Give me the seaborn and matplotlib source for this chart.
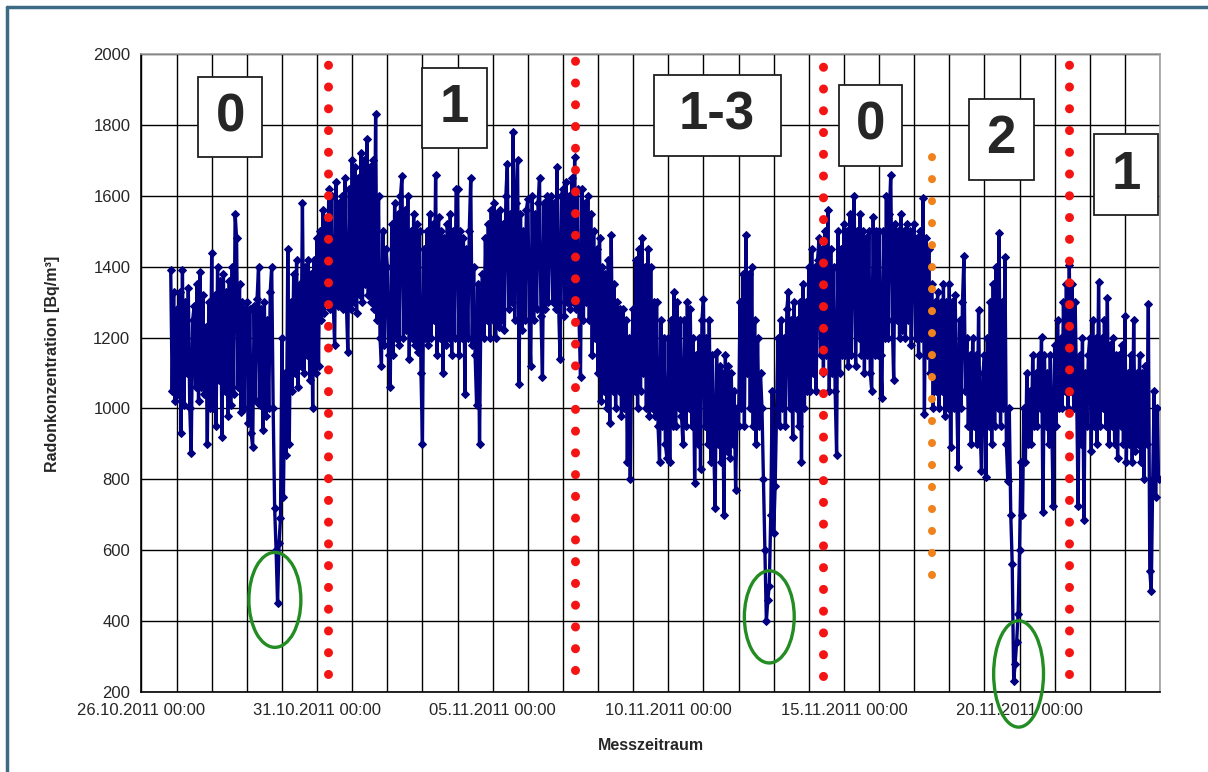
import numpy as np
import pandas as pd
import matplotlib
matplotlib.use("Agg")
import matplotlib.pyplot as plt
import matplotlib.dates as mdates
from matplotlib.patches import Ellipse, Rectangle
from matplotlib.lines import Line2D
import seaborn as sns

# Radon series, hourly, starting 26.10.2011 20:00
start = "2011-10-26 20:00"
radon = [
    # 26.10.
    1390, 1050, 1330, 1020,
    # 27.10.
    1280, 1040, 1330, 930, 1390, 1010, 1300, 1100, 1340, 1000, 875, 1250,
    1290, 1060, 1350, 1020, 1385, 1060, 1320, 1040, 1230, 900, 1300, 1000,
    # 28.10.
    1440, 1000, 1320, 950, 1400, 1080, 1360, 920, 1380, 1050, 1330, 980,
    1360, 1010, 1400, 1040, 1550, 1480, 1060, 1350, 990, 1300, 1000, 1280,
    # 29.10.
    1300, 960, 1280, 930, 890, 1290, 1020, 1310, 1400, 1010, 1280, 940,
    1300, 980, 1250, 1000, 1330, 1400, 1000, 720, 600, 450, 620, 690,
    # 30.10.
    1200, 750, 1100, 870, 1450, 900, 1300, 1050, 1380, 1100, 1420, 1060,
    1350, 1120, 1580, 1100, 1400, 1150, 1420, 1080, 1380, 1000, 1420, 1100,
    # 31.10.
    1480, 1120, 1500, 1250, 1560, 1270, 1520, 1300, 1620, 1280, 1600, 1300,
    1180, 1640, 1290, 1580, 1300, 1600, 1280, 1650, 1300, 1160, 1620, 1280,
    # 01.11.
    1700, 1300, 1680, 1270, 1650, 1320, 1720, 1300, 1700, 1350, 1760, 1320,
    1680, 1300, 1700, 1280, 1830, 1250, 1600, 1200, 1120, 1500, 1180, 1450,
    # 02.11.
    1400, 1150, 1060, 1520, 1150, 1580, 1200, 1550, 1180, 1600, 1655, 1200,
    1560, 1220, 1600, 1140, 1500, 1200, 1550, 1180, 1520, 1160, 1500, 1100,
    # 03.11.
    900, 1450, 1200, 1500, 1180, 1550, 1200, 1520, 1250, 1660, 1150, 1540,
    1200, 1500, 1100, 1480, 1180, 1520, 1200, 1550, 1150, 1500, 1200, 1620,
    # 04.11.
    1620, 1150, 1500, 1200, 1480, 1040, 1450, 1200, 1500, 1650, 1180, 1400,
    1150, 1010, 1350, 900, 1300, 1380, 1200, 1480, 1250, 1520, 1200, 1560,
    # 05.11.
    1250, 1580, 1200, 1550, 1230, 1560, 1250, 1520, 1220, 1600, 1690, 1280,
    1550, 1300, 1780, 1250, 1580, 1700, 1070, 1550, 1220, 1500, 1250, 1560,
    # 06.11.
    1590, 1250, 1120, 1600, 1250, 1550, 1280, 1580, 1650, 1260, 1090, 1580,
    1280, 1600, 1300, 1560, 1600, 1300, 1580, 1280, 1680, 1300, 1140, 1600,
    # 07.11.
    1620, 1260, 1640, 1300, 1600, 1280, 1650, 1300, 1710, 1280, 1620, 1250,
    1090, 1620, 1250, 1580, 1300, 1600, 1250, 1550, 1150, 1500, 1200, 1450,
    # 08.11.
    1100, 1480, 1020, 1400, 1050, 1380, 1000, 1420, 960, 1490, 1050, 1350,
    1000, 1300, 1050, 1280, 980, 1280, 1000, 1250, 850, 1200, 800, 1150,
    # 09.11.
    1280, 1050, 1420, 1000, 1450, 1050, 1480, 1100, 1400, 1000, 1450, 980,
    1400, 1000, 1300, 980, 1300, 950, 850, 1250, 950, 1200, 900, 860,
    # 10.11.
    1200, 850, 1250, 950, 1330, 950, 1300, 1000, 1250, 980, 900, 1250,
    950, 1300, 1000, 1280, 950, 1200, 790, 1150, 900, 1200, 830, 1250,
    # 11.11.
    1310, 950, 1200, 900, 1250, 850, 1150, 900, 720, 1160, 900, 1120,
    850, 1100, 700, 1150, 880, 1120, 860, 1100, 900, 1050, 770, 1000,
    # 12.11.
    950, 1300, 1000, 1380, 950, 1490, 1100, 1380, 1000, 1400, 950, 1250,
    900, 1200, 950, 1100, 1000, 800, 600, 400, 460, 500, 700, 1050,
    # 13.11.
    650, 780, 1000, 1200, 950, 1250, 1000, 1200, 950, 1280, 1330, 1000,
    1250, 920, 1300, 1000, 1250, 950, 1300, 850, 1350, 1000, 1300, 1050,
    # 14.11.
    1400, 1050, 1450, 1100, 1400, 1050, 1420, 1480, 1150, 1450, 1100, 1500,
    1150, 1560, 1050, 1450, 1100, 1400, 1050, 870, 1500, 1100, 1450, 1150,
    # 15.11.
    1520, 1150, 1500, 1120, 1550, 1150, 1500, 1600, 1120, 1500, 1200, 1550,
    1150, 1500, 1100, 1480, 1150, 1500, 1100, 1050, 1540, 1150, 1500, 1150,
    # 16.11.
    1500, 1150, 1030, 1500, 1200, 1600, 1200, 1550, 1660, 1250, 1080, 1520,
    1250, 1500, 1200, 1550, 1220, 1500, 1200, 1520, 1250, 1500, 1180, 1480,
    # 17.11.
    1520, 1200, 1480, 1150, 1500, 1200, 1593, 984, 1480, 1150, 1450, 1100,
    1350, 1000, 1300, 1050, 1330, 1000, 1300, 1050, 1350, 980, 1300, 1000,
    # 18.11.
    1350, 890, 1300, 1000, 1320, 1050, 835, 1250, 1000, 1300, 1430, 1050,
    1200, 950, 1150, 900, 1200, 950, 1150, 900, 1277, 950, 823, 1100,
    # 19.11.
    1150, 806, 1200, 950, 1300, 900, 1350, 950, 1400, 1000, 1496, 950,
    1300, 1000, 1427, 900, 795, 1000, 700, 560, 232, 280, 340, 420,
    # 20.11.
    600, 850, 700, 1000, 850, 1100, 900, 1050, 900, 1150, 950, 1100,
    950, 1150, 1000, 1202, 708, 1150, 950, 1100, 900, 1150, 950, 726,
    # 21.11.
    1180, 950, 1250, 1000, 1200, 1000, 1300, 1050, 1350, 1000, 1404, 1050,
    1350, 1000, 1300, 1050, 726, 1150, 900, 1200, 686, 1100, 950, 1150,
    # 22.11.
    1200, 880, 1250, 950, 1200, 900, 1357, 950, 1200, 1000, 1250, 950,
    1312, 900, 1180, 950, 1200, 900, 1150, 860, 1150, 950, 1180, 900,
    # 23.11.
    1260, 850, 1100, 900, 1150, 850, 1250, 880, 1100, 900, 1150, 850,
    1100, 800, 1120, 900, 1294, 542, 484, 800, 1050, 750, 1000, 800,
]

# ventilation level boxes
box_labels = ["0", "1", "1-3", "0", "2", "1"]
# red dotted separators (time, top, bottom)
red_times = ["2011-10-31 07:30", "2011-11-07 08:30", "2011-11-14 09:40", "2011-11-21 10:00"]
red_top = [1978, 1992, 1972, 1978]
red_bottom = [250, 262, 244, 250]
orange_time = "2011-11-17 12:00"
orange_range = (530, 1766)
# minima marked by green ellipses
minima_times = ["2011-10-29 19:10", "2011-11-12 21:00", "2011-11-19 23:20"]
minima_values = [460, 412, 251]

times = pd.date_range(start, periods=len(radon), freq="1h")
df = pd.DataFrame({"Zeit": times, "Radon": radon})

sns.set_style("white")
plt.rcParams["font.family"] = ["Liberation Sans", "DejaVu Sans"]

fig = plt.figure(figsize=(12.08, 7.72), dpi=100)
ax = fig.add_axes([0.1171, 0.1036, 0.8432, 0.8264])

navy = "#000080"
sns.lineplot(data=df, x="Zeit", y="Radon", ax=ax, color=navy, lw=2.4,
             marker="D", markersize=4.2, markeredgecolor=navy,
             markerfacecolor=navy, zorder=3)

day0 = pd.Timestamp("2011-10-26")
ax.set_xlim(day0, pd.Timestamp("2011-11-24"))
ax.set_ylim(200, 2000)
ax.set_yticks(range(200, 2001, 200))

major = pd.date_range("2011-10-26", "2011-11-20", freq="5D")
ax.xaxis.set_major_locator(matplotlib.ticker.FixedLocator(mdates.date2num(major)))
ax.xaxis.set_minor_locator(mdates.DayLocator())
ax.xaxis.set_major_formatter(mdates.DateFormatter("%d.%m.%Y %H:%M"))

ax.grid(True, which="both", axis="x", color="black", lw=1.0, zorder=0)
ax.grid(True, which="major", axis="y", color="black", lw=1.0, zorder=0)
ax.set_axisbelow(True)

ax.tick_params(axis="both", which="major", direction="out", length=5,
               width=1, color="black", labelsize=12, pad=3)
ax.tick_params(axis="x", which="minor", length=0)
for s in ["left", "bottom"]:
    ax.spines[s].set_color("black")
    ax.spines[s].set_linewidth(1.2)
for s in ["top", "right"]:
    ax.spines[s].set_color("#a0a0a0")
    ax.spines[s].set_linewidth(1.2)

ax.set_xlabel("Messzeitraum", fontsize=11.5, fontweight="bold")
ax.set_ylabel("Radonkonzentration [Bq/m³]", fontsize=11.5, fontweight="bold")
ax.xaxis.set_label_coords(0.5, -0.072)
ax.xaxis.label.set_va("top")
ax.yaxis.set_label_coords(-0.08, 0.515)

# dotted separators
for t, top, bot in zip(red_times, red_top, red_bottom):
    tt = pd.Timestamp(t)
    ax.plot([tt, tt], [bot, top], color="#f41414", lw=6.5,
            linestyle=(0, (0.01, 2.4)), dash_capstyle="round", zorder=4)
ot = pd.Timestamp(orange_time)
ax.plot([ot, ot], list(orange_range), color="#f0821e", lw=5.8,
        linestyle=(0, (0.01, 2.72)), dash_capstyle="round", zorder=4)

# green ellipses
ell_w = [1.48, 1.42, 1.42]
ell_h = [268, 260, 300]
for t, v, w, h in zip(minima_times, minima_values, ell_w, ell_h):
    c = mdates.date2num(pd.Timestamp(t))
    ax.add_patch(Ellipse((c, v), w, h, fill=False, ec="#238c23", lw=2.4,
                         zorder=5, clip_on=False))

# label boxes (days from 26.10., value range)
box_geom = [(1.62, 3.43, 1709, 1934), (8.0, 9.83, 1736, 1960),
            (14.58, 18.2, 1711, 1941), (19.87, 21.65, 1685, 1914),
            (23.56, 25.4, 1644, 1874), (27.12, 28.94, 1545, 1774)]
x0 = mdates.date2num(day0)
for lab, (l, r, b, t) in zip(box_labels, box_geom):
    ax.add_patch(Rectangle((x0 + l, b), r - l, t - b, fc="white", ec="#202020",
                           lw=1.3, zorder=6))
    ax.text(x0 + (l + r) / 2, (b + t) / 2, lab, fontsize=38, fontweight="bold",
            ha="center", va="center", zorder=7)

# outer frame
fc = "#3d6b86"
fig.add_artist(Line2D([7 / 1208, 7 / 1208], [0, 1 - 7 / 772], color=fc, lw=2.5))
fig.add_artist(Line2D([7 / 1208, 1], [1 - 7 / 772, 1 - 7 / 772], color=fc, lw=2.5))

fig.savefig("out.png", dpi=100)
